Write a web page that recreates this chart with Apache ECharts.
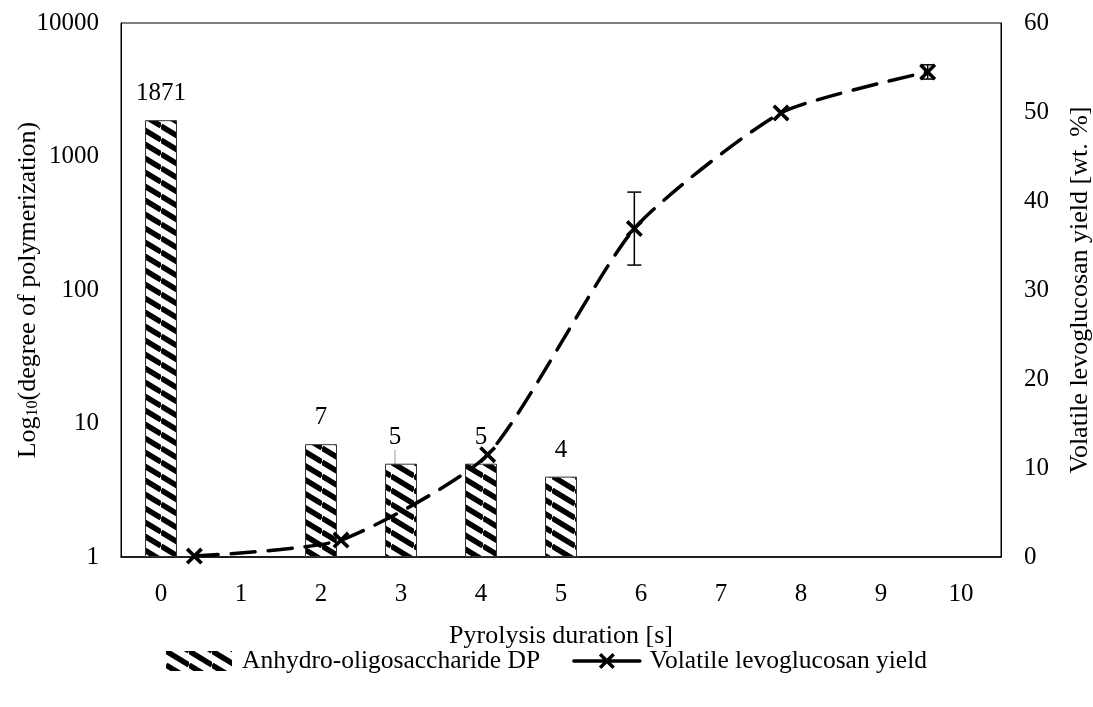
<!DOCTYPE html>
<html>
<head>
<meta charset="utf-8">
<script src="https://cdn.jsdelivr.net/npm/echarts@6/dist/echarts.min.js"></script>
<style>
  html, body { margin: 0; padding: 0; background: #fff; }
  #chart { width: 1093px; height: 707px; }
</style>
</head>
<body>
<div id="chart"></div>
<script>
// bar data (bottom category axis, log left axis)
const durations = ['0', '1', '2', '3', '4', '5', '6', '7', '8', '9', '10']
const dpValues = [1871, null, 7, 5, 5, 4, null, null, null, null, null]

// line data (secondary hidden category axis, right axis)
const lineSteps = ['a', 'b', 'c', 'd', 'e', 'f']
const yieldValues = [0.1, 1.9, 11.5, 36.9, 49.9, 54.5]
const yieldErrors = [0, 0, 0, 4.1, 0, 0.8]

const FONT = '"Liberation Serif", "Times New Roman", serif'
const FS = 25      // ticks and data labels
const FS_NAME = 26 // axis titles and legend

// diagonal hatch fill like the excel pattern
function makeHatch() {
  const w = 23, h = 14
  const c = document.createElement('canvas')
  c.width = w
  c.height = h
  const ctx = c.getContext('2d')
  ctx.fillStyle = '#fff'
  ctx.fillRect(0, 0, w, h)
  ctx.strokeStyle = '#000'
  ctx.lineWidth = 5.5
  for (const d of [-h, 0, h]) {
    ctx.beginPath()
    ctx.moveTo(0, d)
    ctx.lineTo(w, d + h)
    ctx.stroke()
  }
  return c
}

const xSymbol = 'path://M3,0 L10,7 L17,0 L20,3 L13,10 L20,17 L17,20 L10,13 L3,20 L0,17 L7,10 L0,3 Z'

const chart = echarts.init(document.getElementById('chart'))

const option = {
  animation: false,
  textStyle: { fontFamily: FONT, color: '#000' },
  grid: {
    left: 121, right: 92, top: 23, bottom: 150,
    outerBoundsMode: 'none',
    containLabel: false,
    show: true, borderColor: '#000', borderWidth: 1
  },
  legend: {
    bottom: 28,
    left: 'center',
    itemWidth: 66,
    itemHeight: 20,
    itemGap: 32,
    textStyle: { fontFamily: FONT, fontSize: 25.5, color: '#000', padding: [0, 0, 0, 5] },
    data: [
      { name: 'Anhydro-oligosaccharide DP', icon: 'rect', itemStyle: { borderWidth: 0 } },
      { name: 'Volatile levoglucosan yield', lineStyle: { type: 'solid', width: 3.5 } }
    ]
  },
  xAxis: [
    {
      type: 'category',
      data: durations,
      name: 'Pyrolysis duration [s]',
      nameLocation: 'middle',
      nameGap: 66,
      nameTextStyle: { fontFamily: FONT, fontSize: FS_NAME, color: '#000' },
      axisLine: { lineStyle: { color: '#000', width: 1.5 } },
      axisTick: { show: false },
      axisLabel: { fontFamily: FONT, fontSize: FS, color: '#000', margin: 25 }
    },
    {
      type: 'category',
      data: lineSteps,
      show: false,
      position: 'bottom'
    }
  ],
  yAxis: [
    {
      type: 'log',
      logBase: 10,
      min: 1,
      max: 10000,
      name: '{n|Log}{s|10}{n|(degree of polymerization)}',
      nameLocation: 'middle',
      nameGap: 80,
      nameMoveOverlap: false,
      nameTextStyle: {
        rich: {
          n: { fontFamily: FONT, fontSize: FS_NAME, color: '#000' },
          s: { fontFamily: FONT, fontSize: 16, color: '#000', verticalAlign: 'bottom', padding: [10, 0, 0, 0] }
        }
      },
      axisLine: { show: true, lineStyle: { color: '#000' } },
      axisTick: { show: false },
      splitLine: { show: false },
      axisLabel: { fontFamily: FONT, fontSize: FS, color: '#000', margin: 22, formatter: v => String(Math.round(v)) }
    },
    {
      type: 'value',
      min: 0,
      max: 60,
      interval: 10,
      position: 'right',
      name: 'Volatile levoglucosan yield [wt. %]',
      nameLocation: 'middle',
      nameGap: 66,
      nameTextStyle: { fontFamily: FONT, fontSize: FS_NAME, color: '#000' },
      axisLine: { show: true, lineStyle: { color: '#000' } },
      axisTick: { show: false },
      splitLine: { show: false },
      axisLabel: { fontFamily: FONT, fontSize: FS, color: '#000', margin: 23 }
    }
  ],
  series: [
    {
      name: 'Anhydro-oligosaccharide DP',
      type: 'bar',
      xAxisIndex: 0,
      yAxisIndex: 0,
      barWidth: 32,
      data: dpValues.map((v, i) => i === 3 ? { value: v, labelLine: { show: true } } : v),
      itemStyle: {
        color: { image: makeHatch(), repeat: 'repeat' },
        borderColor: '#333',
        borderWidth: 1
      },
      label: {
        show: true,
        position: 'top',
        distance: 14,
        fontFamily: FONT,
        fontSize: FS,
        color: '#000'
      },
      labelLine: { show: false, lineStyle: { color: '#999', width: 1 } },
      labelLayout: params => params.dataIndex === 3 ? { dx: -6 } : {}
    },
    {
      name: 'Volatile levoglucosan yield',
      type: 'line',
      xAxisIndex: 1,
      yAxisIndex: 1,
      data: yieldValues,
      smooth: 0.2,
      symbol: xSymbol,
      symbolSize: 17,
      itemStyle: { color: '#000' },
      lineStyle: { color: '#000', width: 3.5, type: [24, 13], cap: 'round' },
      z: 5
    },
    {
      name: 'error',
      type: 'custom',
      xAxisIndex: 1,
      yAxisIndex: 1,
      data: yieldValues.map((v, i) => [i, v - yieldErrors[i], v + yieldErrors[i]]),
      renderItem: (params, api) => {
        const lo = api.coord([api.value(0), api.value(1)])
        const hi = api.coord([api.value(0), api.value(2)])
        if (hi[1] === lo[1]) return null
        const cap = 7
        const style = { stroke: '#000', lineWidth: 1.5 }
        return {
          type: 'group',
          children: [
            { type: 'line', shape: { x1: lo[0], y1: lo[1], x2: hi[0], y2: hi[1] }, style },
            { type: 'line', shape: { x1: lo[0] - cap, y1: lo[1], x2: lo[0] + cap, y2: lo[1] }, style },
            { type: 'line', shape: { x1: hi[0] - cap, y1: hi[1], x2: hi[0] + cap, y2: hi[1] }, style }
          ]
        }
      },
      z: 6
    }
  ]
}

chart.setOption(option)
</script>
</body>
</html>
